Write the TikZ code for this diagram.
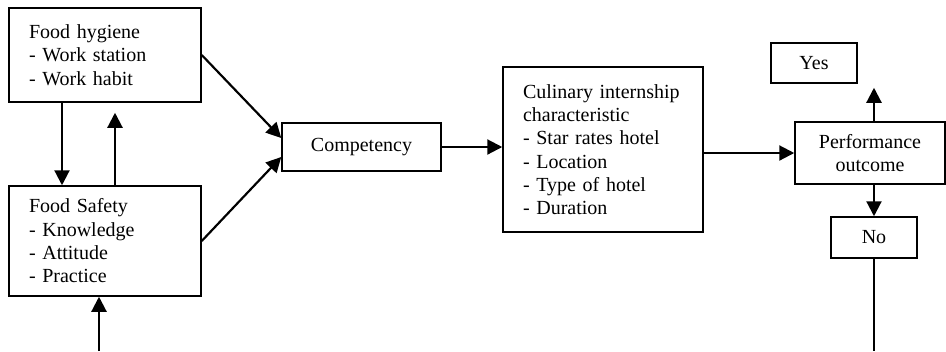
\documentclass[tikz,border=0pt]{standalone}
\usepackage{fontspec}
\setmainfont{Liberation Serif}
\usetikzlibrary{arrows.meta}
\begin{document}
\begin{tikzpicture}[x=0.6pt,y=-0.6pt,
  box/.style={draw,line width=0.9pt,font=\fontsize{12pt}{14pt}\selectfont,inner sep=0pt},
  lbox/.style={box,align=left,inner xsep=12pt,text width=#1},
  cbox/.style={box,align=center},
  arr/.style={line width=1.3pt,-{Triangle[length=9pt,width=9pt]}},
  ln/.style={line width=1.3pt}]
\useasboundingbox (0,0) rectangle (946,351);
\node[lbox=91.2pt,minimum height=56.4pt] (hyg) at (105,55) {Food hygiene\\- Work station\\- Work habit};
\node[lbox=91.2pt,minimum height=66pt] (saf) at (105,241) {Food Safety\\- Knowledge\\- Attitude\\- Practice};
\node[cbox,minimum width=95.4pt,minimum height=28.8pt] (comp) at (361.5,147) {Competency};
\node[lbox=96pt,minimum height=99pt] (cul) at (603,149.5) {Culinary internship\\characteristic\\- Star rates hotel\\- Location\\- Type of hotel\\- Duration};
\node[cbox,minimum width=90pt,minimum height=37.2pt] (perf) at (870,153) {Performance\\outcome};
\node[cbox,minimum width=51.6pt,minimum height=24pt] (yes) at (814,63) {Yes};
\node[cbox,minimum width=51.6pt,minimum height=24.6pt] (no) at (874,237.5) {No};
\coordinate (b1) at (99,351);
\coordinate (b2) at (874,351);
\draw[arr] ([xshift=-25.8pt]hyg.south) -- ([xshift=-25.8pt]saf.north);
\draw[arr,shorten >=6pt] ([xshift=6pt]saf.north) -- ([xshift=6pt]hyg.south);
\draw[arr] (b1) -- (b1 |- saf.south);
\draw[arr] (hyg.east) -- ([yshift=5.4pt]comp.west);
\draw[arr] (saf.east) -- ([yshift=-6pt]comp.west);
\draw[arr] (comp.east) -- (comp.east -| cul.west);
\draw[arr] (perf.west -| cul.east) -- (perf.west);
\draw[arr,shorten >=2.4pt] (perf.north -| no.north) -- (yes.south -| no.north);
\draw[arr] (perf.south -| no.north) -- (no.north);
\draw[ln] (no.south) -- (b2);
\end{tikzpicture}
\end{document}
